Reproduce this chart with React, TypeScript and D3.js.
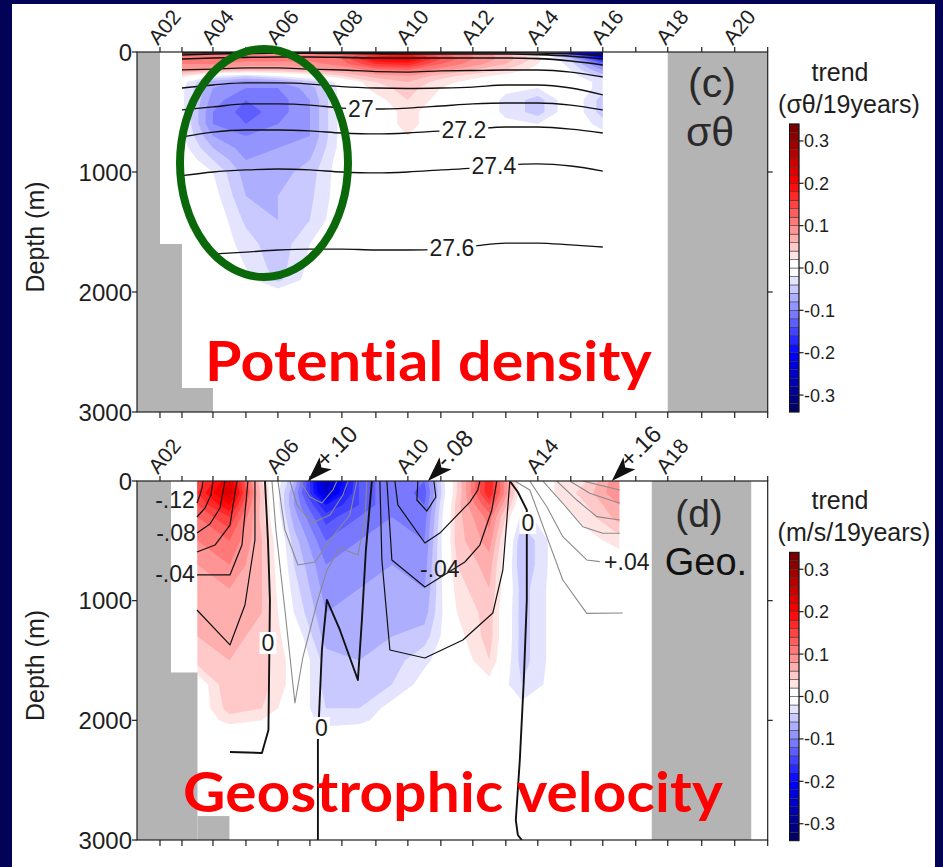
import React from "react";
import * as d3 from "d3";

const SANS = "'Liberation Sans', Arial, Helvetica, sans-serif";
const INK = "#1e1e1e";

// ---------- stations / axes ----------
const stationNames = ["A01","A02","A03","A04","A05","A06","A07","A08","A09","A10","A11","A12","A13","A14","A15","A16","A17","A18","A19","A20","A21"];
const stationDist = [0, 23, 45, 76, 109, 141, 173, 205, 239, 271, 304, 336, 369, 401, 434, 466, 499, 531, 565, 598, 631];
const topLabelStations = ["A02","A04","A06","A08","A10","A12","A14","A16","A18","A20"];
const bottomLabelStations = ["A02","A06","A10","A14","A18"];
const depthTicks = [0, 1000, 2000, 3000];
const rightTicks = [1000, 2000];
const colorbarTicks = [0.3, 0.2, 0.1, 0, -0.1, -0.2, -0.3];

// ---------- (c) potential density trend ----------
const sigmaStations = ["A03","A04","A05","A06","A07","A08","A09","A10","A11","A12","A13","A14","A15","A16"];
const sigmaDepths = [0, 30, 60, 100, 150, 200, 250, 300, 400, 500, 600, 700, 800, 900, 1000, 1200, 1400, 1600, 1800, 1900, 2000, 3000];
const sigmaTrend = [
  [0.08, 0.09, 0.08, 0.07, 0.08, 0.09, 0.11, 0.13, 0.10, 0.08, 0.05, 0.00, -0.18, -0.30],
  [0.11, 0.12, 0.11, 0.10, 0.11, 0.12, 0.17, 0.19, 0.13, 0.10, 0.07, 0.02, -0.10, -0.24],
  [0.11, 0.12, 0.11, 0.11, 0.11, 0.12, 0.20, 0.21, 0.14, 0.10, 0.07, 0.03, -0.05, -0.18],
  [0.10, 0.10, 0.09, 0.09, 0.09, 0.11, 0.16, 0.17, 0.12, 0.09, 0.06, 0.02, -0.03, -0.12],
  [0.08, 0.07, 0.06, 0.06, 0.07, 0.08, 0.11, 0.12, 0.09, 0.06, 0.04, 0.01, -0.02, -0.08],
  [0.03, -0.02, -0.04, -0.02, 0.00, 0.04, 0.07, 0.08, 0.05, 0.03, 0.01, 0.00, -0.01, -0.05],
  [-0.01, -0.07, -0.09, -0.08, -0.05, -0.01, 0.04, 0.06, 0.03, 0.01, 0.00, 0.00, 0.00, -0.03],
  [-0.015, -0.08, -0.10, -0.10, -0.07, -0.01, 0.03, 0.05, 0.02, 0.00, -0.015, -0.02, 0.00, -0.03],
  [-0.015, -0.09, -0.12, -0.11, -0.08, -0.01, 0.01, 0.04, 0.01, 0.00, -0.025, -0.05, 0.00, -0.05],
  [-0.015, -0.10, -0.13, -0.11, -0.08, -0.01, 0.00, 0.03, 0.00, 0.00, -0.025, -0.05, 0.00, -0.05],
  [-0.015, -0.10, -0.12, -0.10, -0.08, -0.01, 0.00, 0.03, 0.00, 0.00, -0.015, -0.02, 0.00, -0.03],
  [-0.015, -0.08, -0.10, -0.09, -0.08, -0.01, 0.00, 0.02, 0.00, 0.00, 0.00, 0.00, 0.00, -0.01],
  [-0.01, -0.06, -0.09, -0.08, -0.07, -0.01, 0.00, 0.00, 0.00, 0.00, 0.00, 0.00, 0.00, 0.00],
  [0.00, -0.04, -0.08, -0.07, -0.06, -0.005, 0.00, 0.00, 0.00, 0.00, 0.00, 0.00, 0.00, 0.00],
  [0.00, -0.02, -0.07, -0.07, -0.05, -0.005, 0.00, 0.00, 0.00, 0.00, 0.00, 0.00, 0.00, 0.00],
  [0.00, -0.01, -0.06, -0.06, -0.045, -0.005, 0.00, 0.00, 0.00, 0.00, 0.00, 0.00, 0.00, 0.00],
  [0.00, 0.00, -0.045, -0.06, -0.04, 0.00, 0.00, 0.00, 0.00, 0.00, 0.00, 0.00, 0.00, 0.00],
  [0.00, 0.00, -0.03, -0.055, -0.02, 0.00, 0.00, 0.00, 0.00, 0.00, 0.00, 0.00, 0.00, 0.00],
  [0.00, 0.00, -0.02, -0.05, -0.014, 0.00, 0.00, 0.00, 0.00, 0.00, 0.00, 0.00, 0.00, 0.00],
  [0.00, 0.00, -0.01, -0.045, -0.01, 0.00, 0.00, 0.00, 0.00, 0.00, 0.00, 0.00, 0.00, 0.00],
  [0.00, 0.00, 0.00, -0.01, 0.00, 0.00, 0.00, 0.00, 0.00, 0.00, 0.00, 0.00, 0.00, 0.00],
  [0.00, 0.00, 0.00, 0.00, 0.00, 0.00, 0.00, 0.00, 0.00, 0.00, 0.00, 0.00, 0.00, 0.00],
];

// isopycnal depths (m) at sigmaStations
const isoLevels = [26.0, 26.2, 26.4, 26.6, 26.8, 27.0, 27.2, 27.4, 27.6];
const isoDepths: (number | null)[][] = [
  [8, 6, 4, 3, 3, 4, 5, 5, 5, 5, 6, 8, 15, 30],
  [25, 17, 12, 10, 10, 12, 15, 17, 17, 17, 17, 22, 35, 58],
  [58, 50, 45, 42, 42, 45, 50, 50, 50, 50, 50, 55, 75, 108],
  [150, 142, 133, 133, 142, 150, 163, 167, 158, 154, 150, 150, 167, 208],
  [300, 275, 258, 258, 267, 288, 300, 304, 300, 292, 275, 275, 300, 358],
  [483, 458, 433, 433, 442, 467, 475, 467, 450, 433, 425, 425, 442, 483],
  [708, 667, 650, 650, 658, 675, 683, 675, 658, 642, 625, 625, 642, 675],
  [1031, 1000, 983, 975, 983, 1000, 1008, 1000, 983, 967, 942, 933, 950, 992],
  [null, 1683, 1667, 1650, 1642, 1642, 1650, 1650, 1642, 1617, 1592, 1592, 1608, 1625],
];
const isoLabelText = ["27", "27.2", "27.4", "27.6"];
const isoLabelLevel = [27.0, 27.2, 27.4, 27.6];
const isoLabelDist = [224, 327, 357, 315];

// ---------- (d) geostrophic velocity trend ----------
const geoDepths = [0, 100, 200, 300, 500, 700, 900, 1100, 1300, 1500, 1700, 1900, 2000, 2100, 2400, 3000];
const geoTrend = [
  [0.14, 0.22, 0.04, -0.06, -0.26, -0.14, -0.10, -0.12, 0.04, 0.18, 0.00, 0.02, 0.04, 0.10],
  [0.16, 0.24, 0.05, -0.08, -0.24, -0.14, -0.10, -0.13, 0.04, 0.18, 0.00, 0.02, 0.05, 0.10],
  [0.14, 0.20, 0.05, -0.08, -0.18, -0.14, -0.10, -0.12, 0.05, 0.14, -0.01, 0.01, 0.04, 0.08],
  [0.12, 0.16, 0.05, -0.07, -0.15, -0.12, -0.10, -0.11, 0.05, 0.11, -0.03, 0.00, 0.03, 0.07],
  [0.10, 0.12, 0.06, -0.05, -0.12, -0.10, -0.09, -0.10, 0.05, 0.09, -0.06, -0.01, 0.01, 0.03],
  [0.08, 0.10, 0.06, -0.04, -0.10, -0.09, -0.08, -0.09, 0.04, 0.07, -0.06, -0.01, 0.00, 0.00],
  [0.07, 0.08, 0.06, -0.03, -0.09, -0.08, -0.07, -0.08, 0.03, 0.06, -0.05, -0.01, 0.00, 0.00],
  [0.06, 0.07, 0.06, -0.02, -0.08, -0.07, -0.06, -0.07, 0.02, 0.05, -0.05, -0.01, 0.00, 0.00],
  [0.06, 0.07, 0.05, 0.00, -0.07, -0.07, -0.06, -0.05, 0.01, 0.05, -0.05, -0.01, 0.00, 0.00],
  [0.05, 0.06, 0.05, 0.01, -0.05, -0.06, -0.05, -0.025, 0.00, 0.04, -0.05, -0.01, 0.00, 0.00],
  [0.00, 0.06, 0.05, 0.01, -0.05, -0.06, -0.04, -0.01, 0.00, 0.01, -0.04, -0.01, 0.00, 0.00],
  [0.00, 0.05, 0.04, 0.00, -0.04, -0.04, -0.01, 0.00, 0.00, 0.00, -0.01, 0.00, 0.00, 0.00],
  [0.00, 0.03, 0.02, 0.00, -0.03, -0.03, 0.00, 0.00, 0.00, 0.00, 0.00, 0.00, 0.00, 0.00],
  [0.00, 0.00, 0.00, 0.00, -0.01, 0.00, 0.00, 0.00, 0.00, 0.00, 0.00, 0.00, 0.00, 0.00],
  [0.00, 0.00, 0.00, 0.00, 0.00, 0.00, 0.00, 0.00, 0.00, 0.00, 0.00, 0.00, 0.00, 0.00],
  [0.00, 0.00, 0.00, 0.00, 0.00, 0.00, 0.00, 0.00, 0.00, 0.00, 0.00, 0.00, 0.00, 0.00],
];

// mean geostrophic velocity contours (m/s): distance (km) / depth (m)
const geoLineLevels = [-0.12, -0.10, -0.08, -0.06, -0.04, -0.02, 0, 0, -0.02, -0.04, -0.08, -0.12, 0,
  0.02, 0.04, 0.06, 0.08, 0.02, 0.04, 0.06, 0.08, 0.10, 0.12];
const geoLineDist = [
  [60, 63, 65, 66],
  [60, 68, 74, 76],
  [60, 73, 83, 88],
  [60, 78, 93, 100],
  [60, 93, 105, 111],
  [60, 93, 108, 118, 118],
  [128, 131, 133, 131.5, 125, 93],
  [181, 181, 182, 185, 190, 203, 221, 225, 229, 235],
  [243, 245, 253, 288, 326, 356, 366, 370, 373],
  [250, 255, 288, 328, 343, 355, 360],
  [258, 261, 288, 303, 333, 341, 343],
  [281, 280, 290, 299, 297],
  [373, 381, 390, 390, 387, 383, 379, 381, 385],
  [135, 139, 148, 158, 166, 180, 190, 203, 221, 228, 230],
  [141, 148, 161, 178, 193, 213, 220],
  [153, 160, 175, 193, 206, 211],
  [163, 173, 185, 196, 200],
  [378, 393, 410, 426, 450, 486],
  [393, 410, 426, 450, 463],
  [406, 426, 446, 466, 483],
  [420, 440, 460, 483],
  [433, 453, 483],
  [446, 483],
];
const geoLineDepth = [
  [184, 117, 58, 0],
  [301, 226, 117, 0],
  [434, 359, 226, 0],
  [593, 535, 368, 0],
  [785, 785, 535, 0],
  [1078, 1370, 1036, 493, 0],
  [0, 493, 994, 2080, 2273, 2265],
  [3000, 2139, 1980, 1412, 994, 1245, 1663, 1162, 577, 0],
  [0, 660, 1412, 1479, 1329, 1103, 744, 326, 0],
  [0, 660, 886, 677, 535, 242, 0],
  [0, 200, 518, 435, 176, 75, 0],
  [0, 159, 251, 134, 0],
  [0, 92, 242, 994, 1663, 2331, 2833, 2958, 3000],
  [0, 410, 1078, 1855, 1471, 1020, 744, 560, 618, 326, 0],
  [0, 410, 702, 677, 493, 284, 0],
  [0, 200, 351, 284, 117, 0],
  [0, 134, 184, 75, 0],
  [0, 75, 465, 827, 1106, 1103],
  [0, 215, 465, 660, 674],
  [0, 186, 382, 437, 437],
  [0, 159, 298, 326],
  [0, 103, 186],
  [0, 75],
];
const geoLabelText = ["-.12", "-.08", "-.04", "0", "0", "-.04", "0", "+.04"];
const geoLabelDist = [38, 39, 38, 131, 184.5, 303, 391, 490];
const geoLabelDepth = [159, 435, 777, 1354, 2064, 735, 351, 677];
const arrowDist = [171, 291, 475];
const arrowText = ["+.10", "-.08", "+.16"];

// topography / no-data masks
const sigmaMaskFrom = [0, 23, 45, 531];
const sigmaMaskTo = [23, 45, 76, 631];
const sigmaMaskDepth = [0, 1600, 2800, 0];
const geoMaskFrom = [0, 34, 60.5, 515];
const geoMaskTo = [34, 60.5, 92.5, 614.5];
const geoMaskDepth = [0, 1600, 2800, 0];

// ---------- helpers ----------
const distOf = (name: string) => stationDist[stationNames.indexOf(name)];
const fieldColor = d3
  .scaleLinear<string>()
  .domain([-0.34, -0.2, -0.01, 0.01, 0.2, 0.34])
  .range(["#00005c", "#0000ff", "#ffffff", "#ffffff", "#ff0000", "#6e0000"])
  .clamp(true);

function textWidth(s: string, size: number) {
  let w = 0;
  for (const ch of s) w += ch === "." ? 0.278 : ch === "-" ? 0.333 : ch === "+" ? 0.584 : 0.556;
  return w * size;
}

function fieldPaths(cols: number[], depths: number[], rows: number[][], x: any, y: any) {
  const n = cols.length, m = depths.length;
  const flat = rows.flat();
  const neg = flat.map((v) => -v);
  const ci = d3.scaleLinear().domain(d3.range(n)).range(cols).clamp(true);
  const ri = d3.scaleLinear().domain(d3.range(m)).range(depths).clamp(true);
  const tr = d3.geoTransform({
    point: function (px: number, py: number) {
      (this as any).stream.point(x(ci(px - 0.5)), y(ri(py - 0.5)));
    },
  });
  const path = d3.geoPath(tr as any);
  const gen = d3.contours().size([n, m]);
  const out: { d: string; fill: string }[] = [];
  for (let k = 1; k <= 16; k++) {
    const t = k * 0.02;
    const p = path(gen.contour(flat, t - 1e-6) as any);
    if (p) out.push({ d: p, fill: fieldColor(t + 0.01) });
    const q = path(gen.contour(neg, t - 1e-6) as any);
    if (q) out.push({ d: q, fill: fieldColor(-(t + 0.01)) });
  }
  return out;
}

const X0 = 137, X1 = 767.7;

function Frame({ y, labels }: { y: any; labels: string[] }) {
  const x = d3.scaleLinear().domain([0, 631]).range([X0, X1]);
  const [y0, y1] = y.range();
  return (
    <g>
      <rect x={X0} y={y0} width={X1 - X0} height={y1 - y0} fill="none" stroke={INK} strokeWidth={1.2} />
      {stationDist.slice(1).map((d, i) => (
        <g key={i}>
          <line x1={x(d)} x2={x(d)} y1={y0} y2={y0 - 5} stroke={INK} strokeWidth={1.2} />
          <line x1={x(d)} x2={x(d)} y1={y1} y2={y1 + 6} stroke={INK} strokeWidth={1.2} />
        </g>
      ))}
      {labels.map((s) => (
        <text key={s} transform={`translate(${x(distOf(s)) - 2},${y0 - 6}) rotate(-50)`} fontSize={21} fill={INK}>
          {s}
        </text>
      ))}
      {depthTicks.map((v) => (
        <g key={v}>
          <line x1={X0} x2={X0 - 5} y1={y(v)} y2={y(v)} stroke={INK} strokeWidth={1.2} />
          <text x={X0 - 5} y={y(v)} dy="0.36em" textAnchor="end" fontSize={24} fill={INK}>
            {v}
          </text>
        </g>
      ))}
      {rightTicks.map((v) => (
        <line key={v} x1={X1} x2={X1 + 5} y1={y(v)} y2={y(v)} stroke={INK} strokeWidth={1.2} />
      ))}
      <text transform={`translate(44,${(y0 + y1) / 2 + 5}) rotate(-90)`} textAnchor="middle" fontSize={25} fill={INK}>
        Depth (m)
      </text>
    </g>
  );
}

function Colorbar({ top, bottom, title, unit, unitX }: { top: number; bottom: number; title: string; unit: string; unitX: number }) {
  const cb = d3.scaleLinear().domain([-0.34, 0.34]).range([bottom, top]);
  const boxes = d3.range(-0.34, 0.3399, 0.02);
  return (
    <g>
      {boxes.map((v, i) => (
        <rect key={i} x={789.5} width={9.5} y={cb(v + 0.02)} height={cb(v) - cb(v + 0.02)} fill={fieldColor(v + 0.01)} stroke="#333" strokeWidth={0.5} />
      ))}
      <rect x={789.5} width={9.5} y={top} height={bottom - top} fill="none" stroke="#111" strokeWidth={1} />
      {colorbarTicks.map((v) => (
        <g key={v}>
          <line x1={799} x2={803.5} y1={cb(v)} y2={cb(v)} stroke={INK} strokeWidth={1.2} />
          <text x={804} y={cb(v)} dy="0.36em" fontSize={18} fill={INK}>
            {v.toFixed(1)}
          </text>
        </g>
      ))}
      <text x={840} y={top - 43} textAnchor="middle" fontSize={25} fill={INK}>{title}</text>
      <text x={unitX} y={top - 11} textAnchor="middle" fontSize={25} fill={INK}>{unit}</text>
    </g>
  );
}

export default function App() {
  const x = d3.scaleLinear().domain([0, 631]).range([X0, X1]);
  const yTop = d3.scaleLinear().domain([0, 3000]).range([52, 412]);
  const yBot = d3.scaleLinear().domain([0, 3000]).range([481, 840]);

  const sigmaDist = sigmaStations.map(distOf);
  const geoDist = d3.range(2, 16).map((i) => (stationDist[i] + stationDist[i + 1]) / 2);

  const sigmaFill = fieldPaths(sigmaDist, sigmaDepths, sigmaTrend, x, yTop);
  const geoFill = fieldPaths(geoDist, geoDepths, geoTrend, x, yBot);

  const isoLine = d3
    .line<number | null>()
    .defined((v) => v != null)
    .x((_, i) => x(sigmaDist[i]))
    .y((v) => yTop(v as number))
    .curve(d3.curveMonotoneX);

  const geoLine = (di: number[], de: number[]) =>
    d3.line<number>().x((d) => x(d)).y((_, i) => yBot(de[i]))(di) as string;

  const isoAt = (level: number, d: number) => {
    const row = isoDepths[isoLevels.indexOf(level)];
    const ds: number[] = [], vs: number[] = [];
    row.forEach((v, i) => { if (v != null) { ds.push(sigmaDist[i]); vs.push(v); } });
    return d3.scaleLinear().domain(ds).range(vs)(d);
  };

  const maskRects = (from: number[], to: number[], dep: number[], y: any) =>
    from.map((f, i) => (
      <rect key={i} x={x(f)} width={x(to[i]) - x(f)} y={y(dep[i])} height={y(3000) - y(dep[i])} fill="#b4b4b4" />
    ));

  const bigStyle: React.CSSProperties = {
    fontFamily: "Lato, 'Open Sans', sans-serif",
    fontWeight: 700,
    fontSize: 56,
    fill: "#ff0000",
    fontVariantLigatures: "none",
    fontFeatureSettings: "'liga' 0, 'clig' 0, 'dlig' 0",
    letterSpacing: "0.2px",
  };

  return (
    <svg width={943} height={867} style={{ position: "absolute", left: 0, top: 0, display: "block" }} fontFamily={SANS}>
      <defs>
        <clipPath id="clipTop"><rect x={X0} y={52} width={X1 - X0} height={360} /></clipPath>
        <clipPath id="clipBot"><rect x={X0} y={481} width={X1 - X0} height={359} /></clipPath>
      </defs>
      <rect width={943} height={867} fill="#020256" />
      <rect x={12} y={4} width={923} height={863} fill="#ffffff" />

      {/* ===== panel (c) ===== */}
      <g clipPath="url(#clipTop)">
        {sigmaFill.map((p, i) => <path key={i} d={p.d} fill={p.fill} />)}
        {maskRects(sigmaMaskFrom, sigmaMaskTo, sigmaMaskDepth, yTop)}
        {isoDepths.map((row, i) => (
          <path key={i} d={isoLine(row) as string} fill="none" stroke="#111" strokeWidth={isoLevels[i] < 26.5 ? 1.6 : 1.3} />
        ))}
        {isoLabelText.map((t, i) => {
          const cx = x(isoLabelDist[i]);
          const cy = yTop(isoAt(isoLabelLevel[i], isoLabelDist[i]));
          const w = textWidth(t, 23) + 4;
          return (
            <g key={t}>
              <rect x={cx - w / 2} y={cy - 10} width={w} height={20} fill="#fff" />
              <text x={cx} y={cy} dy="0.36em" textAnchor="middle" fontSize={23} fill={INK}>{t}</text>
            </g>
          );
        })}
      </g>
      <Frame y={yTop} labels={topLabelStations} />
      <Colorbar top={124} bottom={412} title="trend" unit="(σθ/19years)" unitX={849} />
      <text x={712} y={97} textAnchor="middle" fontSize={41} fill="#2a2a2a">(c)</text>
      <text x={710} y={146} textAnchor="middle" fontSize={41} fill="#2a2a2a">σθ</text>

      {/* ===== panel (d) ===== */}
      <g clipPath="url(#clipBot)">
        {geoFill.map((p, i) => <path key={i} d={p.d} fill={p.fill} />)}
        {maskRects(geoMaskFrom, geoMaskTo, geoMaskDepth, yBot)}
        {geoLineDist.map((di, i) => {
          const lv = geoLineLevels[i];
          return (
            <path key={i} d={geoLine(di, geoLineDepth[i])} fill="none"
              stroke={lv > 0 ? "#8a8a8a" : "#111"}
              strokeWidth={lv > 0 ? 1.1 : lv === 0 ? 1.9 : 1.2}
              strokeLinejoin="round" />
          );
        })}
      </g>
      {geoLabelText.map((t, i) => {
        const cx = x(geoLabelDist[i]);
        const cy = yBot(geoLabelDepth[i]);
        const w = textWidth(t, 23) + 4;
        return (
          <g key={i}>
            {t === "0" && <rect x={cx - w / 2} y={cy - 11} width={w} height={22} fill="#fff" />}
            <text x={cx} y={cy} dy="0.36em" textAnchor="middle" fontSize={23} fill={INK}>{t}</text>
          </g>
        );
      })}
      <Frame y={yBot} labels={bottomLabelStations} />
      {arrowDist.map((d, i) => (
        <g key={i} transform={`translate(${x(d)},481) rotate(-45)`}>
          <text x={21} y={4} fontSize={24} fill={INK}>{arrowText[i]}</text>
          <path d="M0,0 L25,-8.5 L19,0 L25,8.5 Z" fill="#111" />
        </g>
      ))}
      <Colorbar top={552.3} bottom={840.7} title="trend" unit="(m/s/19years)" unitX={854} />
      <text x={699} y={527} textAnchor="middle" fontSize={39} fill="#2a2a2a">(d)</text>
      <text x={706} y={575} textAnchor="middle" fontSize={38} fill="#111">Geo.</text>

      {/* ===== annotations ===== */}
      <ellipse cx={264} cy={163} rx={84} ry={114} fill="none" stroke="#0a680a" strokeWidth={8} />
      <text x={205} y={381} style={bigStyle} textLength={447} lengthAdjust="spacingAndGlyphs">Potential density</text>
      <text x={183} y={812} style={bigStyle} textLength={540} lengthAdjust="spacingAndGlyphs">Geostrophic velocity</text>
    </svg>
  );
}
